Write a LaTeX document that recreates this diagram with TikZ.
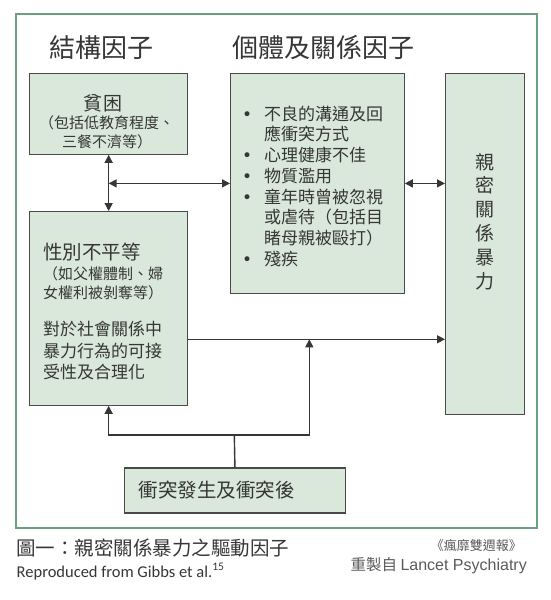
\documentclass[tikz,border=0pt]{standalone}
\usepackage{fontspec}
\setmainfont{Noto Sans CJK TC}
\newfontfamily\gibbsfont{Carlito}
\newfontfamily\lancetfont{Liberation Sans}
\newfontfamily\dotfont{DejaVu Sans}
\usetikzlibrary{arrows.meta,positioning}
\definecolor{IpvFrame}{HTML}{6E9F7E}
\definecolor{IpvFill}{HTML}{D9E8DB}
\definecolor{IpvEdge}{HTML}{4A4A4A}
\definecolor{IpvInk}{HTML}{363636}
\definecolor{IpvGrey}{HTML}{5A5A5A}
\newcommand\ipvbullet{\makebox[20pt][l]{\hspace*{-2pt}\smash{\dotfont\fontsize{17}{17}\selectfont •}}}
\newcommand\ipvindent{\hspace*{20pt}}
\tikzset{
  factorbox/.style={draw=IpvEdge, line width=1.3pt, fill=IpvFill, inner sep=0pt, anchor=north west},
  boxtext/.style={text=IpvInk, inner sep=0pt},
  link/.style={draw=IpvInk, line width=1.4pt},
  onearrow/.style={-{Triangle[length=8pt,width=8pt]}},
  twoarrow/.style={{Triangle[length=8pt,width=8pt]}-{Triangle[length=8pt,width=8pt]}},
}

\begin{document}
\begin{tikzpicture}[x=1pt,y=-1pt]
\useasboundingbox (0,0) rectangle (551,600);
\draw[IpvFrame, line width=2pt] (15.7,14) rectangle (536.7,528);

% headings
\node[boxtext, anchor=west, font=\fontsize{26}{30}\selectfont] (structhead) at (49.5,47.4) {結構因子};
\node[boxtext, anchor=west, font=\fontsize{26}{30}\selectfont] (relhead) at (232,47.4) {個體及關係因子};

% boxes
\node[factorbox, minimum width=158pt, minimum height=81pt] (poor) at (29,72.5) {};
\node[factorbox, minimum width=173.5pt, minimum height=220.5pt] (indiv) at (230,72.5) {};
\node[factorbox, minimum width=79pt, minimum height=341pt] (ipv) at (445,72.5) {};
\node[factorbox, minimum width=158pt, minimum height=193.5pt] (gender) at (29,211) {};
\node[factorbox, minimum width=221pt, minimum height=45pt] (conflict) at (123.8,467.3) {};

% box texts
\node[boxtext, anchor=north west, align=left, font=\fontsize{15}{18.5}\selectfont] (poortext) at (39,94)
  {\hspace*{44pt}{\fontsize{19}{19}\selectfont 貧\hspace{1pt}困}\\（包括低教育程度、\\\hspace*{23pt}三餐不濟等）};
\node[boxtext, anchor=north west, align=left, font=\fontsize{17}{20.7}\selectfont] (indivtext) at (244,105.6)
  {\ipvbullet 不良的溝通及回\\ \ipvindent 應衝突方式\\ \ipvbullet 心理健康不佳\\ \ipvbullet 物質濫用\\
   \ipvbullet 童年時曾被忽視\\ \ipvindent 或虐待（包括目\\ \ipvindent 睹母親被毆打）\\ \ipvbullet 殘疾};
\node[boxtext, anchor=north, align=center, font=\fontsize{19}{23.8}\selectfont] (ipvtext) at (484.5,153)
  {親\\密\\關\\係\\暴\\力};
\node[boxtext, anchor=north west, align=left, font=\fontsize{17}{21.6}\selectfont] (gendertext) at (43,243.2)
  {{\fontsize{19.5}{20}\selectfont 性別不平等}\\[-1.6pt]
   {\fontsize{15}{18}\selectfont （如父權體制、婦}\\[-3.3pt]
   {\fontsize{15}{18}\selectfont 女權利被剝奪等）}\\[15.9pt]
   對於社會關係中\\暴力行為的可接\\受性及合理化};
\node[boxtext, anchor=west, font=\fontsize{19.5}{22}\selectfont] (conflicttext) at (138.6,490) {衝突發生及衝突後};

% connectors
\coordinate (join) at (309.3,339.3);
\coordinate (fork) at (234.3,435);
\draw[link, twoarrow] (poor.south) -- (gender.north);
\draw[link, twoarrow] (indiv.west) -- (indiv.west -| poor.south);
\draw[link, twoarrow] (indiv.east) -- (ipv.west |- indiv.east);
\draw[link, onearrow] (gender.east |- join) -- (ipv.west |- join);
\draw[link] (conflict.north) -- (fork);
\draw[link, onearrow] (fork) -| (gender.south);
\draw[link, onearrow] (fork) -| (join);

% caption
\node[boxtext, anchor=west, font=\fontsize{19.5}{22}\selectfont] (figcaption) at (16,548.3) {圖一：親密關係暴力之驅動因子};
\node[boxtext, anchor=base west, font=\gibbsfont\fontsize{16.5}{18}\selectfont] (credit) at (16.5,577)
  {Reproduced from Gibbs et al.\textsuperscript{15}};
\node[anchor=east, inner sep=0pt, text=IpvGrey, font=\fontsize{13}{15}\selectfont] (journal) at (522,545.6) {《瘋靡雙週報》};
\node[anchor=base east, inner sep=0pt, text=IpvGrey, font=\fontsize{15.5}{18}\selectfont] (source) at (527,570)
  {重製自 {\lancetfont\fontsize{16}{18}\selectfont Lancet Psychiatry}};
\end{tikzpicture}
\end{document}
